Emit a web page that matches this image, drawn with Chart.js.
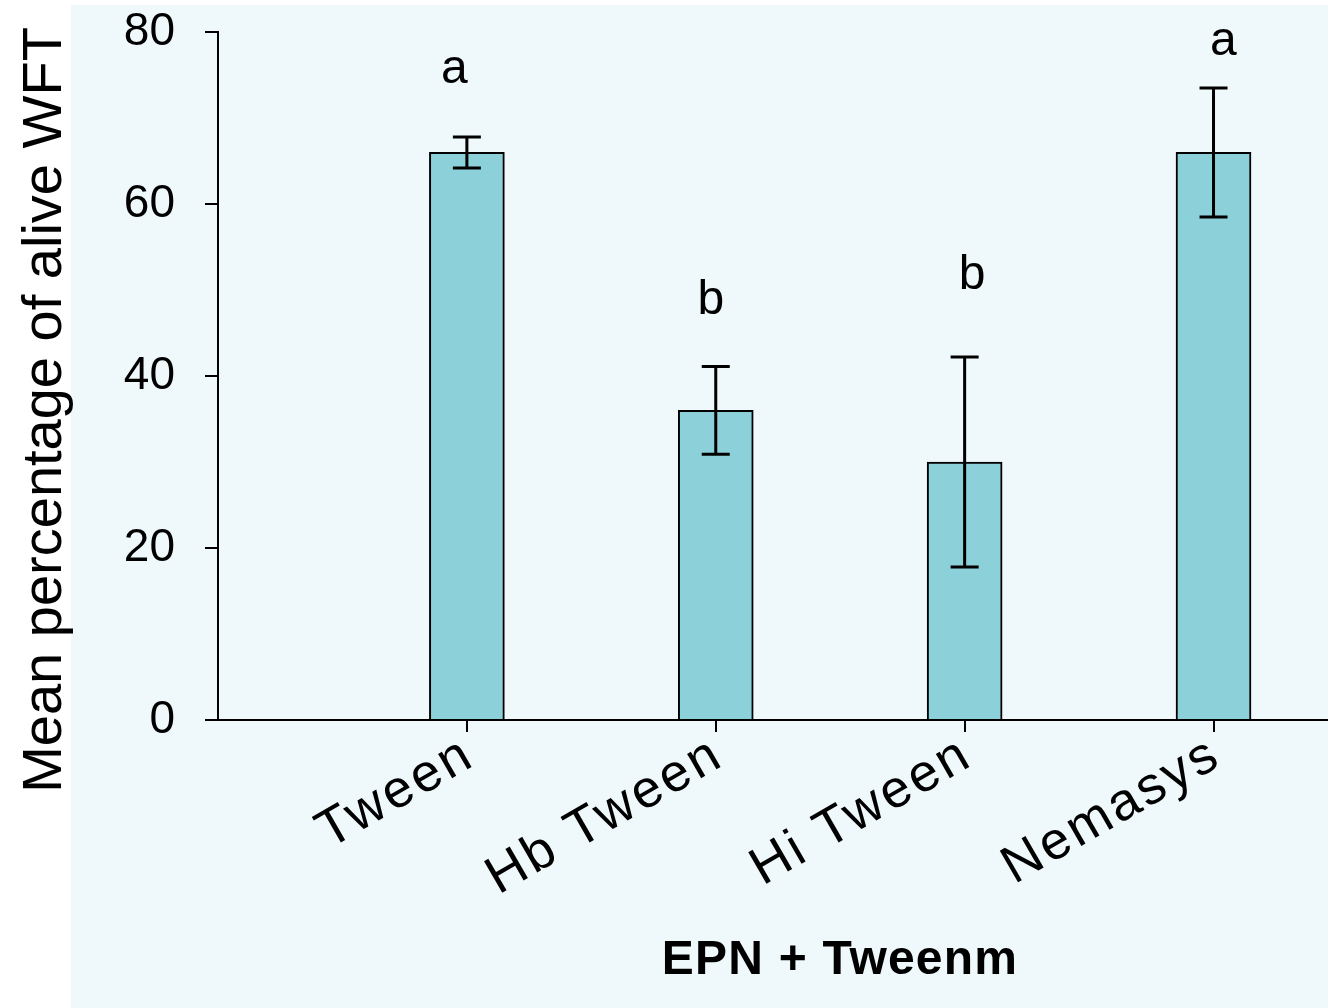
<!DOCTYPE html>
<html>
<head>
<meta charset="utf-8">
<script src="https://cdn.jsdelivr.net/npm/chart.js@4.4.1/dist/chart.umd.min.js"></script>
<style>
  body { margin: 0; background: #fff; }
  #wrap { width: 1328px; height: 1008px; }
</style>
</head>
<body>
<div id="wrap"><canvas id="chart" width="1328" height="1008"></canvas></div>
<script>
// data
const categories = ["Tween", "Hb Tween", "Hi Tween", "Nemasys"];
const means = [66, 36, 30, 66];
const errors = [1.8, 5.1, 12.2, 7.5];
const letters = ["a", "b", "b", "a"];
// where the significance letters sit (x in category units, y = baseline in %)
const letterX = [0.95, 1.98, 3.03, 4.04];
const letterY = [74.1, 47.2, 50.1, 77.3];
const yTicks = [0, 20, 40, 60, 80];

const FONT = "'Liberation Sans', Arial, sans-serif";

const panelBg = {
  id: "panelBg",
  beforeDraw(chart) {
    const ctx = chart.ctx;
    ctx.save();
    ctx.fillStyle = "#ffffff";
    ctx.fillRect(0, 0, chart.width, chart.height);
    ctx.fillStyle = "#eff8fb";
    ctx.fillRect(71, 5, chart.width - 71, chart.height - 5);
    ctx.restore();
  }
};

const errorBars = {
  id: "errorBars",
  afterDatasetsDraw(chart) {
    const ctx = chart.ctx;
    const xs = chart.scales.x, ys = chart.scales.y;
    ctx.save();
    ctx.strokeStyle = "#000";
    ctx.lineWidth = 3;
    means.forEach((m, i) => {
      const x = xs.getPixelForValue(i + 1);
      const top = ys.getPixelForValue(m + errors[i]);
      const bot = ys.getPixelForValue(m - errors[i]);
      ctx.beginPath();
      ctx.moveTo(x, top); ctx.lineTo(x, bot);
      ctx.moveTo(x - 14, top); ctx.lineTo(x + 14, top);
      ctx.moveTo(x - 14, bot); ctx.lineTo(x + 14, bot);
      ctx.stroke();
    });
    // significance letters
    ctx.fillStyle = "#000";
    ctx.font = "48px " + FONT;
    ctx.textAlign = "center";
    ctx.textBaseline = "alphabetic";
    letters.forEach((t, i) => {
      ctx.fillText(t, xs.getPixelForValue(letterX[i]), ys.getPixelForValue(letterY[i]));
    });
    ctx.restore();
  }
};

// x tick labels are spaced out a little, so they are drawn here at the scale's tick positions
const xLabels = {
  id: "xLabels",
  afterDraw(chart) {
    const ctx = chart.ctx;
    const xs = chart.scales.x;
    ctx.save();
    ctx.fillStyle = "#000";
    ctx.font = "53px " + FONT;
    ctx.letterSpacing = "3px";
    ctx.textAlign = "right";
    ctx.textBaseline = "middle";
    categories.forEach((c, i) => {
      ctx.save();
      ctx.translate(xs.getPixelForValue(i + 1) + 3, xs.top + 31);
      ctx.rotate(-Math.PI / 6);
      ctx.fillText(c, 0, 0);
      ctx.restore();
    });
    ctx.restore();
  }
};

const axisTitles = {
  id: "axisTitles",
  afterDraw(chart) {
    const ctx = chart.ctx;
    ctx.save();
    ctx.fillStyle = "#000";
    ctx.textAlign = "center";
    ctx.textBaseline = "alphabetic";
    ctx.font = "bold 48px " + FONT;
    ctx.letterSpacing = "1.2px";
    ctx.fillText("EPN + Tweenm", 840, 974);
    ctx.letterSpacing = "0px";
    ctx.translate(61, 410);
    ctx.rotate(-Math.PI / 2);
    ctx.font = "56px " + FONT;
    ctx.fillText("Mean percentage of alive WFT", 0, 0);
    ctx.restore();
  }
};

new Chart(document.getElementById("chart"), {
  type: "bar",
  data: {
    datasets: [{
      data: means.map((m, i) => ({ x: i + 1, y: m })),
      backgroundColor: "#8cd0d9",
      borderColor: "#000",
      borderWidth: 2,
      barThickness: 75
    }]
  },
  options: {
    responsive: false,
    animation: false,
    layout: { padding: { top: 32, left: 0, right: 0, bottom: 0 } },
    plugins: { legend: { display: false }, tooltip: { enabled: false } },
    scales: {
      x: {
        type: "linear",
        min: 0,
        max: 4.46,
        offset: false,
        afterBuildTicks: s => { s.ticks = categories.map((_, i) => ({ value: i + 1 })); },
        afterFit: s => { s.height = 288; s.paddingLeft = 0; s.paddingRight = 0; },
        ticks: { display: false },
        grid: { offset: false, drawOnChartArea: false, color: "#000", lineWidth: 2, tickLength: 12 },
        border: { color: "#000", width: 2 }
      },
      y: {
        min: 0,
        max: 80,
        afterBuildTicks: s => { s.ticks = yTicks.map(v => ({ value: v })); },
        afterFit: s => { s.width = 218; s.paddingTop = 0; s.paddingBottom = 0; },
        ticks: {
          padding: 30,
          color: "#000",
          font: { size: 46, family: FONT }
        },
        grid: { drawOnChartArea: false, color: "#000", lineWidth: 2, tickLength: 13 },
        border: { color: "#000", width: 2 }
      }
    }
  },
  plugins: [panelBg, errorBars, xLabels, axisTitles]
});
</script>
</body>
</html>
